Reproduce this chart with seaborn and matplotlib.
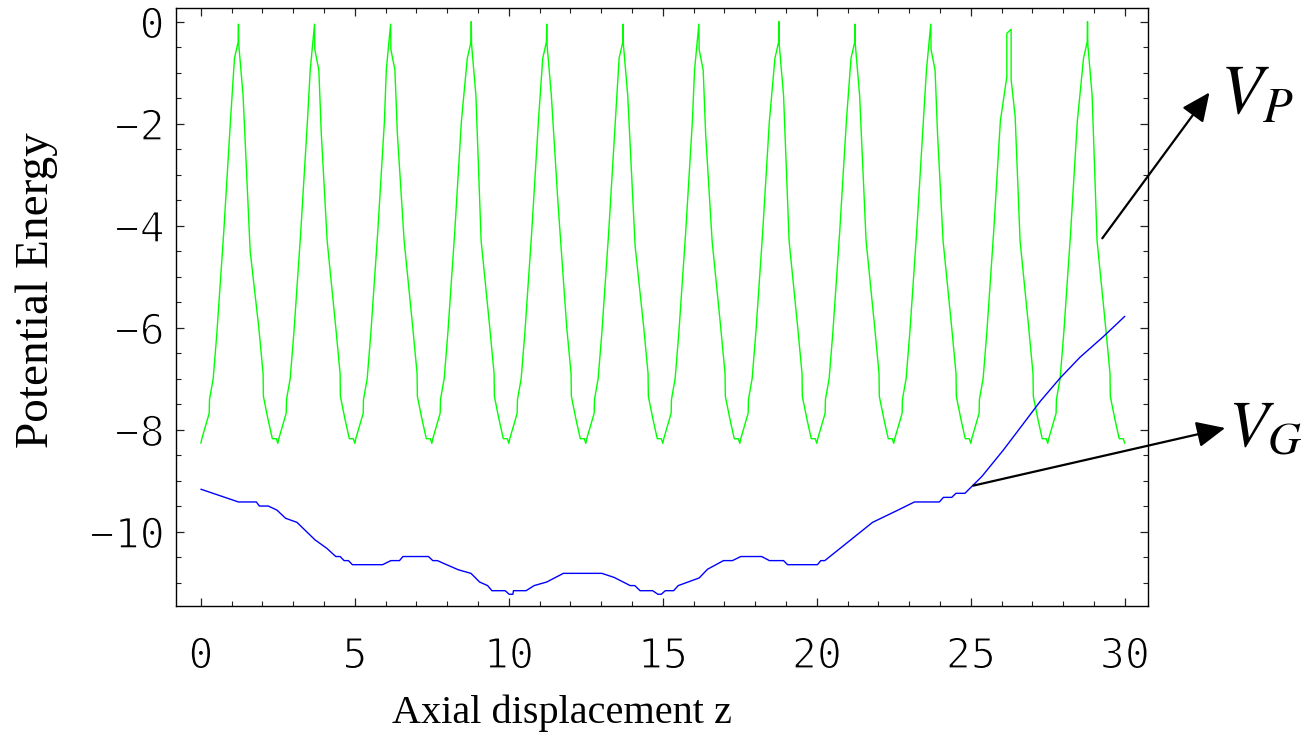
import matplotlib
matplotlib.use('Agg')
import matplotlib.pyplot as plt
import matplotlib.patheffects as pe
from matplotlib.ticker import MultipleLocator
import pandas as pd
import seaborn as sns

# V_P : periodic potential (green)
green_z = [
    0.00, 0.03, 0.14, 0.27, 0.28, 0.40, 0.52, 0.74, 0.96, 1.09, 1.21, 1.22, 1.23, 1.37, 1.60, 1.88, 2.02, 2.03, 2.18, 2.32, 2.45,
    2.50, 2.53, 2.64, 2.77, 2.78, 2.90, 3.02, 3.24, 3.46, 3.55, 3.69, 3.70, 3.83, 3.91, 4.10, 4.38, 4.52, 4.53, 4.68, 4.82, 4.95,
    5.00, 5.03, 5.14, 5.27, 5.28, 5.40, 5.52, 5.74, 5.96, 6.02, 6.16, 6.17, 6.30, 6.38, 6.60, 6.88, 7.02, 7.03, 7.18, 7.32, 7.45,
    7.50, 7.53, 7.64, 7.77, 7.78, 7.90, 8.02, 8.24, 8.46, 8.65, 8.77, 8.78, 8.79, 8.93, 9.10, 9.38, 9.52, 9.53, 9.68, 9.82, 9.95,
    10.00, 10.03, 10.14, 10.27, 10.28, 10.40, 10.52, 10.74, 10.96, 11.10, 11.22, 11.23, 11.24, 11.38, 11.60, 11.88, 12.02, 12.03, 12.18, 12.32, 12.45,
    12.50, 12.53, 12.64, 12.77, 12.78, 12.90, 13.02, 13.24, 13.46, 13.58, 13.70, 13.71, 13.72, 13.86, 14.10, 14.38, 14.52, 14.53, 14.68, 14.82, 14.95,
    15.00, 15.03, 15.14, 15.27, 15.28, 15.40, 15.52, 15.74, 15.96, 16.03, 16.17, 16.18, 16.31, 16.39, 16.60, 16.88, 17.02, 17.03, 17.18, 17.32, 17.45,
    17.50, 17.53, 17.64, 17.77, 17.78, 17.90, 18.02, 18.24, 18.46, 18.64, 18.76, 18.77, 18.78, 18.92, 19.10, 19.38, 19.52, 19.53, 19.68, 19.82, 19.95,
    20.00, 20.03, 20.14, 20.27, 20.28, 20.40, 20.52, 20.74, 20.96, 21.11, 21.23, 21.24, 21.25, 21.39, 21.60, 21.88, 22.02, 22.03, 22.18, 22.32, 22.45,
    22.50, 22.53, 22.64, 22.77, 22.78, 22.90, 23.02, 23.24, 23.46, 23.56, 23.70, 23.71, 23.84, 23.92, 24.10, 24.38, 24.52, 24.53, 24.68, 24.82, 24.95,
    25.00, 25.03, 25.14, 25.27, 25.28, 25.40, 25.52, 25.74, 25.96, 26.17, 26.17, 26.31, 26.31, 26.44, 26.60, 26.88, 27.02, 27.03, 27.18, 27.32, 27.45,
    27.50, 27.53, 27.64, 27.77, 27.78, 27.90, 28.02, 28.24, 28.46, 28.66, 28.78, 28.79, 28.80, 28.94, 29.10, 29.38, 29.52, 29.53, 29.68, 29.82, 29.95,
    30.00,
]
green_v = [
    -8.27, -8.18, -7.95, -7.68, -7.41, -7.00, -6.10, -4.15, -1.95, -0.72, -0.40, -0.05, -0.45, -1.45, -4.50, -6.00, -6.90, -7.35, -7.80, -8.18, -8.18,
    -8.27, -8.18, -7.95, -7.68, -7.41, -7.00, -6.10, -4.15, -1.95, -0.95, -0.05, -0.55, -0.95, -2.20, -4.30, -6.00, -6.90, -7.35, -7.80, -8.18, -8.18,
    -8.27, -8.18, -7.95, -7.68, -7.41, -7.00, -6.10, -4.15, -1.95, -0.95, -0.05, -0.55, -0.95, -2.20, -4.30, -6.00, -6.90, -7.35, -7.80, -8.18, -8.18,
    -8.27, -8.18, -7.95, -7.68, -7.41, -7.00, -6.10, -4.15, -1.95, -0.72, -0.40, 0.00, -0.45, -1.45, -4.30, -6.00, -6.90, -7.35, -7.80, -8.18, -8.18,
    -8.27, -8.18, -7.95, -7.68, -7.41, -7.00, -6.10, -4.15, -1.95, -0.72, -0.40, -0.05, -0.45, -1.45, -3.60, -6.00, -6.90, -7.35, -7.80, -8.18, -8.18,
    -8.27, -8.18, -7.95, -7.68, -7.41, -7.00, -6.10, -4.15, -1.95, -0.72, -0.40, -0.05, -0.45, -1.45, -4.40, -6.00, -6.90, -7.35, -7.80, -8.18, -8.18,
    -8.27, -8.18, -7.95, -7.68, -7.41, -7.00, -6.10, -4.15, -1.95, -0.95, -0.05, -0.55, -0.95, -2.20, -4.30, -6.00, -6.90, -7.35, -7.80, -8.18, -8.18,
    -8.27, -8.18, -7.95, -7.68, -7.41, -7.00, -6.10, -4.15, -1.95, -0.72, -0.40, 0.00, -0.45, -1.45, -4.30, -6.00, -6.90, -7.35, -7.80, -8.18, -8.18,
    -8.27, -8.18, -7.95, -7.68, -7.41, -7.00, -6.10, -4.15, -1.95, -0.72, -0.40, -0.05, -0.45, -1.45, -4.30, -6.00, -6.90, -7.35, -7.80, -8.18, -8.18,
    -8.27, -8.18, -7.95, -7.68, -7.41, -7.00, -6.10, -4.15, -1.95, -0.95, -0.05, -0.55, -0.95, -2.20, -4.30, -6.00, -6.90, -7.35, -7.80, -8.18, -8.18,
    -8.27, -8.18, -7.95, -7.68, -7.41, -7.00, -6.10, -4.15, -1.95, -1.08, -0.23, -0.15, -1.14, -1.86, -4.30, -6.00, -6.90, -7.35, -7.80, -8.18, -8.18,
    -8.27, -8.18, -7.95, -7.68, -7.41, -7.00, -6.10, -4.15, -1.95, -0.72, -0.40, 0.00, -0.45, -1.45, -4.30, -6.00, -6.90, -7.35, -7.80, -8.18, -8.18,
    -8.27,
]

# V_G : slowly varying potential (blue)
blue_z = [0.00, 1.22, 1.80, 1.90, 2.19, 2.47, 2.75, 3.12, 3.70, 4.09, 4.38, 4.52, 4.65, 4.79, 4.92,
          5.90, 6.17, 6.45, 6.56, 7.39, 7.53, 7.68, 7.94, 8.36, 8.77, 9.05, 9.31, 9.45, 9.88,
          10.01, 10.13, 10.15, 10.56, 10.82, 11.23, 11.77, 13.02, 13.42, 13.94, 14.09, 14.26,
          14.67, 14.84, 14.95, 15.08, 15.35, 15.50, 16.18, 16.45, 16.97, 17.26, 17.53, 18.21,
          18.46, 18.92, 19.05, 20.02, 20.13, 20.26, 21.81, 22.60, 23.17, 23.98, 24.11, 24.38,
          24.52, 24.81, 25.36, 26.06, 26.60, 27.25, 27.90, 28.55, 29.30, 30.00]
blue_v = [-9.17, -9.42, -9.42, -9.50, -9.50, -9.58, -9.74, -9.82, -10.16, -10.33, -10.49, -10.49, -10.57, -10.57, -10.65,
          -10.65, -10.57, -10.57, -10.49, -10.49, -10.57, -10.57, -10.64, -10.75, -10.82, -10.99, -11.06, -11.16, -11.16,
          -11.23, -11.23, -11.16, -11.16, -11.06, -10.99, -10.82, -10.82, -10.90, -11.06, -11.06, -11.16,
          -11.16, -11.23, -11.23, -11.16, -11.16, -11.06, -10.91, -10.74, -10.57, -10.57, -10.49, -10.49,
          -10.57, -10.57, -10.65, -10.65, -10.57, -10.57, -9.82, -9.59, -9.42, -9.42, -9.33, -9.33,
          -9.25, -9.25, -8.92, -8.40, -7.97, -7.45, -6.99, -6.58, -6.18, -5.78]

green = pd.DataFrame({'z': green_z, 'V': green_v})
blue = pd.DataFrame({'z': blue_z, 'V': blue_v})

sns.set_style('ticks')
plt.rcParams['mathtext.fontset'] = 'stix'
for key in ['text.color', 'axes.labelcolor', 'xtick.color', 'ytick.color']:
    plt.rcParams[key] = 'black'

fig = plt.figure(figsize=(13.01, 7.43), dpi=100)
ax = fig.add_axes([0.135, 0.1844, 0.7473, 0.8044])

sns.lineplot(data=green, x='z', y='V', sort=False, estimator=None, color='#00ff00', lw=1.0, ax=ax)
sns.lineplot(data=blue, x='z', y='V', sort=False, estimator=None, color='#0000ff', lw=1.0, ax=ax)

ax.set_xlim(-0.82, 30.75)
ax.set_ylim(-11.46, 0.26)
ax.xaxis.set_major_locator(MultipleLocator(5))
ax.xaxis.set_minor_locator(MultipleLocator(1))
ax.yaxis.set_major_locator(MultipleLocator(2))
ax.yaxis.set_minor_locator(MultipleLocator(0.5))
ax.tick_params(which='both', direction='in', top=True, right=True, color='#222222')
ax.tick_params(which='major', length=6, width=0.9, labelsize=30,
               labelfontfamily='DejaVu Sans Mono')
ax.tick_params(which='minor', length=3.5, width=0.8)
ax.tick_params(axis='x', which='major', pad=21)
ax.tick_params(axis='y', which='major', pad=8)
# thin the glyph strokes a little, the original digits are light
thin = [pe.Normal(), pe.Stroke(linewidth=1.1, foreground='white')]
for lbl in ax.get_xticklabels() + ax.get_yticklabels():
    lbl.set_path_effects(thin)
for s in ax.spines.values():
    s.set_linewidth(1.0)
    s.set_color('black')

ax.set_xlabel('Axial displacement z', fontfamily='Liberation Serif', fontsize=29)
ax.xaxis.set_label_coords(0.397, -0.179)
ax.xaxis.label.set_va('center')
ax.set_ylabel('Potential Energy', fontfamily='Liberation Serif', fontsize=34)
ax.yaxis.set_label_coords(-0.1427, 0.528)
ax.yaxis.label.set_va('center')
ax.yaxis.label.set_ha('center')

arrow = dict(arrowstyle='-|>,head_length=0.55,head_width=0.25', color='black', lw=1.6,
             mutation_scale=32, shrinkA=0, shrinkB=0)
ax.annotate('', xy=(32.75, -1.39), xytext=(29.27, -4.25), arrowprops=arrow, annotation_clip=False)
ax.annotate('', xy=(33.26, -7.97), xytext=(25.08, -9.10), arrowprops=arrow, annotation_clip=False)
ax.text(33.1, -1.79, r'$V_P$', fontsize=50, ha='left', va='baseline', clip_on=False)
ax.text(33.35, -8.34, r'$V_G$', fontsize=47, ha='left', va='baseline', clip_on=False)

fig.savefig('out.png', dpi=100, facecolor='white')
